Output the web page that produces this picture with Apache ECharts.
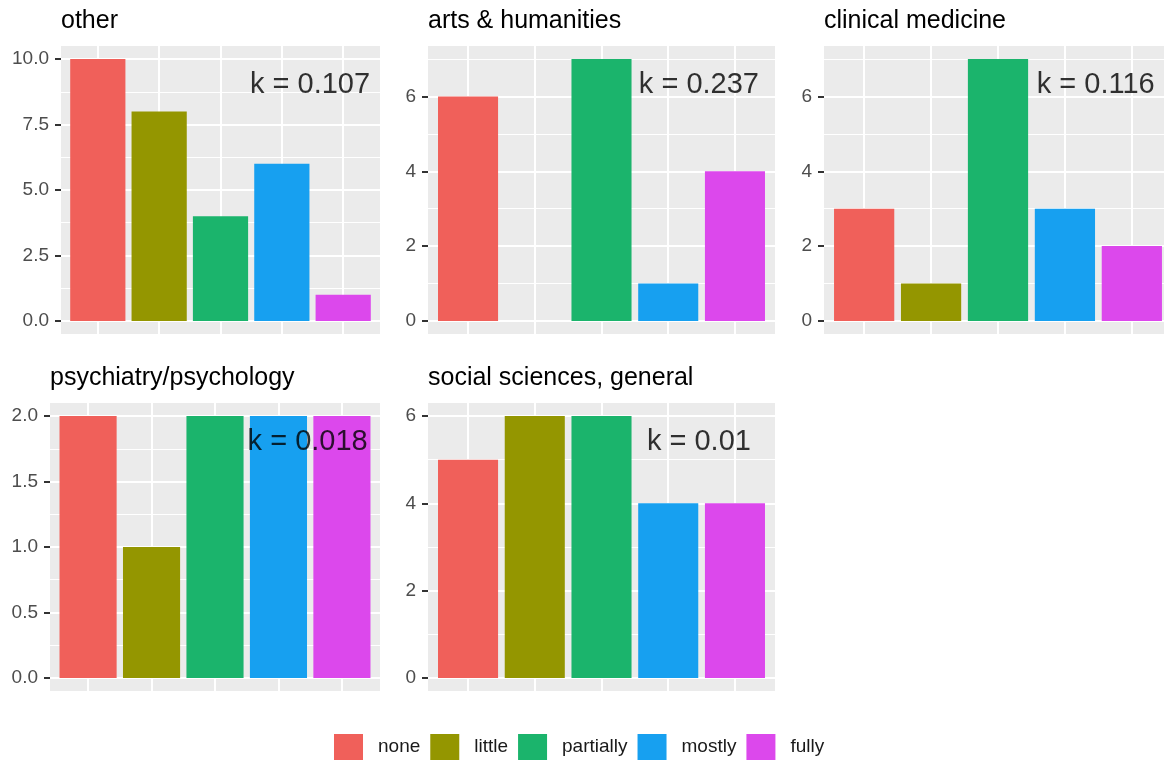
<!DOCTYPE html>
<html>
<head>
<meta charset="utf-8">
<script src="https://cdn.jsdelivr.net/npm/echarts@6/dist/echarts.min.js"></script>
<style>
  html, body { margin: 0; padding: 0; background: #ffffff; overflow: hidden; }
  /* drawing surface is a little wider than the window: the third panel runs off the right edge */
  #chart { width: 1172px; height: 766px; }
</style>
</head>
<body>
<div id="chart"></div>
<script>
// Agreement levels and their fill colours
const levels = ['none', 'little', 'partially', 'mostly', 'fully'];
const levelColors = ['#F0605A', '#949600', '#1BB46C', '#17A0F0', '#DC48EC'];

// Research fields (one panel each)
const fields = ['other', 'arts & humanities', 'clinical medicine', 'psychiatry/psychology', 'social sciences, general'];

// Counts per agreement level, per field
const countsOther    = [10, 8, 4, 6, 1];
const countsArts     = [6, 0, 7, 1, 4];
const countsClinical = [3, 1, 7, 3, 2];
const countsPsych    = [2, 1, 2, 2, 2];
const countsSocial   = [5, 6, 6, 4, 4];

// Kappa per field
const kappas = ['0.107', '0.237', '0.116', '0.018', '0.01'];

// Y tick labels per panel
const tickLabelsOther    = ['0.0', '2.5', '5.0', '7.5', '10.0'];
const tickLabelsArts     = ['0', '2', '4', '6'];
const tickLabelsClinical = ['0', '2', '4', '6'];
const tickLabelsPsych    = ['0.0', '0.5', '1.0', '1.5', '2.0'];
const tickLabelsSocial   = ['0', '2', '4', '6'];

const panelCounts = [countsOther, countsArts, countsClinical, countsPsych, countsSocial];
const panelTicks = [tickLabelsOther, tickLabelsArts, tickLabelsClinical, tickLabelsPsych, tickLabelsSocial];

// Panel boxes (pixels)
const panelBoxes = [
  { left: 61,  top: 46,  width: 319 },
  { left: 428, top: 46,  width: 347 },
  { left: 824, top: 46,  width: 348 },
  { left: 50,  top: 403, width: 330 },
  { left: 428, top: 403, width: 347 }
];
const panelHeight = 288;
const FONT = '"Liberation Sans", Arial, Helvetica, sans-serif';

const grids = [], xAxes = [], yAxes = [], titles = [], series = [];

panelCounts.forEach((counts, i) => {
  const box = panelBoxes[i];
  const top = Math.max(...counts);
  const yMin = -0.05 * top, yMax = 1.05 * top;
  const labels = panelTicks[i];
  const ticks = labels.map(Number);
  const step = ticks[1] - ticks[0];
  const minors = [];
  ticks.forEach(t => { if (t + step / 2 <= yMax) minors.push(t + step / 2); });

  grids.push({
    left: box.left, top: box.top, width: box.width, height: panelHeight,
    show: true, backgroundColor: '#EBEBEB', borderWidth: 0, containLabel: false
  });

  titles.push({
    text: fields[i],
    left: box.left, top: box.top - 37, padding: 0,
    textStyle: { fontFamily: FONT, fontSize: 25, fontWeight: 'normal', color: '#000000' }
  });

  xAxes.push({
    type: 'value', gridIndex: i, min: -0.6, max: 4.6, position: 'bottom',
    axisLine: { show: false, onZero: false },
    axisTick: { show: false, customValues: levels.map((_, j) => j) },
    axisLabel: { show: false },
    splitLine: { show: true, lineStyle: { color: '#FFFFFF', width: 2 } }
  });

  // major gridlines + tick labels
  yAxes.push({
    type: 'value', gridIndex: i, min: yMin, max: yMax, position: 'left',
    axisLine: { show: false, onZero: false },
    axisTick: { show: true, customValues: ticks, length: 6, lineStyle: { color: '#333333', width: 2 } },
    axisLabel: {
      customValues: ticks, margin: 12, color: '#4D4D4D', fontSize: 19, fontFamily: FONT,
      formatter: v => labels[ticks.findIndex(t => Math.abs(t - v) < 1e-9)]
    },
    splitLine: { show: true, lineStyle: { color: '#FFFFFF', width: 2 } }
  });
  // minor gridlines
  yAxes.push({
    type: 'value', gridIndex: i, min: yMin, max: yMax, position: 'left',
    axisLine: { show: false, onZero: false },
    axisTick: { show: false, customValues: minors },
    axisLabel: { show: false },
    splitLine: { show: true, lineStyle: { color: '#FFFFFF', width: 1 } }
  });

  series.push({
    type: 'bar', name: fields[i], xAxisIndex: i, yAxisIndex: i * 2,
    data: counts.map((v, j) => [j, v]),
    barWidth: '90%',
    itemStyle: { color: p => levelColors[p.dataIndex] },
    emphasis: { disabled: true },
    z: 2
  });

  series.push({
    type: 'scatter', name: 'k' + i, xAxisIndex: i, yAxisIndex: i * 2,
    data: [[3.46, 0.9 * top]],
    symbolSize: 0, silent: true, z: 10,
    label: {
      show: true, position: 'inside', formatter: 'k = ' + kappas[i],
      color: '#000000', fontSize: 29, fontFamily: FONT, align: 'center', verticalAlign: 'middle'
    }
  });
});

// legend entries
levels.forEach((name, j) => {
  series.push({
    type: 'scatter', name: name, xAxisIndex: 0, yAxisIndex: 0, data: [],
    itemStyle: { color: levelColors[j], opacity: 1 }
  });
});

const chart = echarts.init(document.getElementById('chart'), null, { renderer: 'canvas' });
chart.setOption({
  animation: false,
  backgroundColor: '#FFFFFF',
  title: titles,
  grid: grids,
  xAxis: xAxes,
  yAxis: yAxes,
  legend: {
    data: levels, left: 334, top: 734, orient: 'horizontal', padding: 0,
    icon: 'rect', itemWidth: 29, itemHeight: 26, itemGap: 10,
    itemStyle: { opacity: 1 },
    textStyle: { fontFamily: FONT, fontSize: 19, color: '#1A1A1A', padding: [0, 0, 0, 10] },
    selectedMode: false
  },
  series: series
});
</script>
</body>
</html>
